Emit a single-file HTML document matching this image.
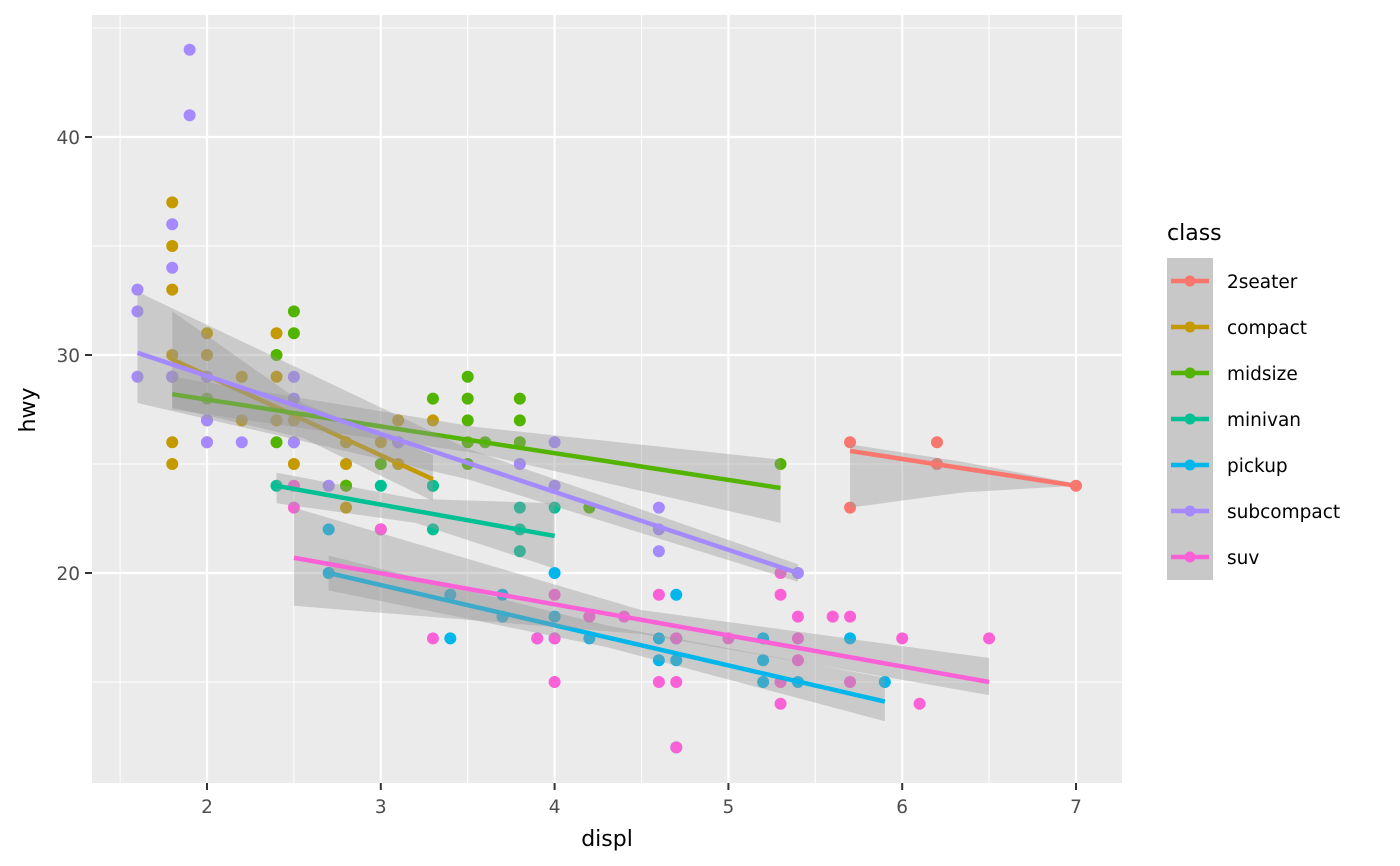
<!DOCTYPE html>
<html><head><meta charset="utf-8"><style>
body{margin:0;background:#fff;}
svg{display:block;font-family:"DejaVu Sans","Liberation Sans",sans-serif;}
</style></head><body>
<svg id="chart" width="1400" height="866">
<rect x="92" y="15" width="1030" height="768" fill="#EBEBEB"/>
<g id="grid"></g>
<g id="points"></g>
<g id="smooths"></g>
<g id="axes"></g>
<text x="607" y="846" font-size="22" text-anchor="middle" fill="#000">displ</text>
<text transform="translate(35,410) rotate(-90)" font-size="22" text-anchor="middle" fill="#000">hwy</text>
<g id="legend">
<text x="1167" y="240" font-size="22" fill="#000">class</text>
<rect x="1167" y="258" width="46" height="322" fill="#C8C8C8"/>
</g>
</svg>
<script>
const classes=["2seater","compact","midsize","minivan","pickup","subcompact","suv"];
const colors=["#F8766D","#C49A00","#53B400","#00C094","#00B6EB","#A58AFF","#FB61D7"];
const xTicks=[2,3,4,5,6,7];
const yTicks=[20,30,40];
const xMinor=[1.5,2.5,3.5,4.5,5.5,6.5,7.5];
const yMinor=[15,25,35,45];
const pts2seater=[[5.7,26],[5.7,23],[6.2,26],[6.2,25],[7,24]];
const ptsCompact=[[1.8,37],[1.8,35],[1.8,33],[1.8,30],[1.8,29],[1.8,26],[1.8,25],[2,31],[2,30],[2,29],[2,28],[2,27],[2,26],[2.2,29],[2.2,27],[2.4,31],[2.4,29],[2.4,27],[2.5,27],[2.5,25],[2.8,26],[2.8,25],[2.8,24],[2.8,23],[3,26],[3.1,27],[3.1,25],[3.3,27]];
const ptsMidsize=[[1.8,29],[2,28],[2.4,30],[2.4,26],[2.5,32],[2.5,31],[2.5,26],[2.8,24],[3,25],[3.1,26],[3.3,28],[3.3,24],[3.5,29],[3.5,28],[3.5,27],[3.5,26],[3.5,25],[3.6,26],[3.8,28],[3.8,27],[3.8,26],[4.2,23],[5.3,25]];
const ptsMinivan=[[2.4,24],[3,24],[3,22],[3.3,24],[3.3,22],[3.8,23],[3.8,22],[3.8,21],[4,23]];
const ptsPickup=[[2.7,22],[2.7,20],[3.4,19],[3.4,17],[3.7,19],[3.7,18],[3.9,17],[4,20],[4,18],[4,17],[4.2,17],[4.6,17],[4.6,16],[4.7,19],[4.7,17],[4.7,16],[4.7,12],[5.2,17],[5.2,16],[5.2,15],[5.4,15],[5.7,17],[5.9,15]];
const ptsSubcompact=[[1.6,33],[1.6,32],[1.6,29],[1.8,36],[1.8,34],[1.8,29],[1.9,44],[1.9,41],[2,29],[2,27],[2,26],[2.2,26],[2.5,29],[2.5,28],[2.5,26],[2.7,24],[3.1,26],[3.8,25],[4,26],[4,24],[4.6,23],[4.6,22],[4.6,21],[5.4,20]];
const ptsSuv=[[2.5,24],[2.5,23],[3,22],[3.3,17],[3.9,17],[4,19],[4,17],[4,15],[4.2,18],[4.4,18],[4.6,19],[4.6,15],[4.7,17],[4.7,15],[4.7,12],[5,17],[5.3,20],[5.3,19],[5.3,15],[5.3,14],[5.4,18],[5.4,17],[5.4,16],[5.6,18],[5.7,18],[5.7,15],[6,17],[6.1,14],[6.5,17]];
const points=[pts2seater,ptsCompact,ptsMidsize,ptsMinivan,ptsPickup,ptsSubcompact,ptsSuv];
// fitted lines
const fitX0=[5.7,1.8,1.8,2.4,2.7,1.6,2.5];
const fitX1=[7.0,3.3,5.3,4.0,5.9,5.4,6.5];
const fitY0=[25.6,29.8,28.2,24.0,20.0,30.1,20.7];
const fitY1=[24.0,24.3,23.9,21.7,14.1,20.0,15.0];
// ribbon bounds at start / middle / end
const ribHi0=[25.9,32.0,29.0,24.6,20.8,32.9,23.0];
const ribLo0=[23.0,27.6,27.5,23.2,19.2,27.8,18.5];
const ribHiM=[25.1,27.8,26.7,23.4,17.6,25.7,18.3];
const ribLoM=[23.7,26.2,25.5,22.3,16.6,24.3,17.2];
const ribHi1=[24.1,25.4,25.2,23.2,15.2,20.4,16.1];
const ribLo1=[24.0,23.3,22.3,20.2,13.2,19.6,14.4];

const NS="http://www.w3.org/2000/svg";
const X=v=>207+(v-2)*173.8;
const Y=v=>573-(v-20)*21.8;
function mk(tag,attrs,parent){const e=document.createElementNS(NS,tag);for(const k in attrs)e.setAttribute(k,attrs[k]);parent.appendChild(e);return e;}
const grid=document.getElementById('grid');
xMinor.forEach(v=>{const l=mk('line',{x1:X(v),x2:X(v),y1:15,y2:783,stroke:'#fff','stroke-width':1},grid);

});
yMinor.forEach(v=>{const l=mk('line',{x1:92,x2:1122,y1:Y(v),y2:Y(v),stroke:'#fff','stroke-width':1},grid);

});
xTicks.forEach(v=>{const l=mk('line',{x1:X(v),x2:X(v),y1:15,y2:783,stroke:'#fff','stroke-width':2.2},grid);

});
yTicks.forEach(v=>{const l=mk('line',{x1:92,x2:1122,y1:Y(v),y2:Y(v),stroke:'#fff','stroke-width':2.2},grid);

});
const axes=document.getElementById('axes');
xTicks.forEach(v=>{const t=mk('line',{x1:X(v),x2:X(v),y1:783,y2:790,stroke:'#333','stroke-width':2},axes);


const s=mk('text',{x:X(v),y:813,'font-size':18.5,'text-anchor':'middle',fill:'#4D4D4D'},axes);s.textContent=v;

});
yTicks.forEach(v=>{const t=mk('line',{x1:85,x2:92,y1:Y(v),y2:Y(v),stroke:'#333','stroke-width':2},axes);


const s=mk('text',{x:80,y:Y(v)+7,'font-size':18.5,'text-anchor':'end',fill:'#4D4D4D'},axes);s.textContent=v;

});
const pg=document.getElementById('points');
points.forEach((arr,i)=>arr.forEach(p=>{const c=mk('circle',{cx:X(p[0]),cy:Y(p[1]),r:6,fill:colors[i]},pg);

}));
const sg=document.getElementById('smooths');
classes.forEach((c,i)=>{
 const x0=fitX0[i],x1=fitX1[i],xm=(x0+x1)/2;
 const d=`M${X(x0)},${Y(ribHi0[i])} L${X(xm)},${Y(ribHiM[i])} L${X(x1)},${Y(ribHi1[i])} L${X(x1)},${Y(ribLo1[i])} L${X(xm)},${Y(ribLoM[i])} L${X(x0)},${Y(ribLo0[i])} Z`;
 const r=mk('path',{d:d,fill:'#999999','fill-opacity':0.4},sg);
 
 
 const l=mk('line',{x1:X(x0),y1:Y(fitY0[i]),x2:X(x1),y2:Y(fitY1[i]),stroke:colors[i],'stroke-width':4.5},sg);
 
 
});
const lg=document.getElementById('legend');
classes.forEach((c,i)=>{const cy=281+i*46;
 const l=mk('line',{x1:1171,x2:1209,y1:cy,y2:cy,stroke:colors[i],'stroke-width':4.5},lg);
 
 
 const d=mk('circle',{cx:1190,cy:cy,r:5.5,fill:colors[i]},lg);
 
 
 const t=mk('text',{x:1227,y:cy+7,'font-size':18.5,fill:'#000'},lg);t.textContent=c;
 
 
});
</script>
</body></html>
